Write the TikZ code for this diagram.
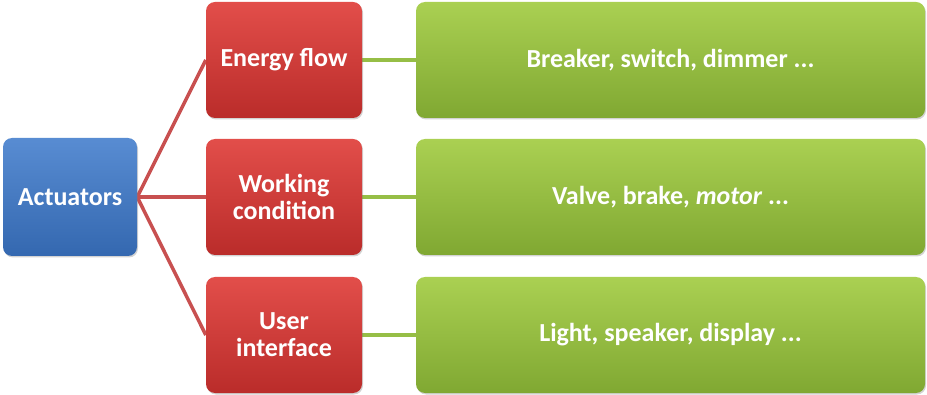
\documentclass[tikz,border=0pt]{standalone}
\usepackage{fontspec}
\setmainfont{Carlito}
\usetikzlibrary{shadows,backgrounds}
\definecolor{bluetop}{RGB}{88,140,210}
\definecolor{bluebot}{RGB}{52,104,176}
\definecolor{redtop}{RGB}{226,78,74}
\definecolor{redbot}{RGB}{186,44,42}
\definecolor{greentop}{RGB}{170,208,82}
\definecolor{greenbot}{RGB}{128,168,50}
\definecolor{redline}{RGB}{200,80,80}
\definecolor{greenline}{RGB}{150,190,70}
\tikzset{
  x=1pt,y=1pt,
  box/.style={rounded corners=9pt, draw=none, text=white, font=\bfseries\fontsize{26}{27}\selectfont,
    align=center, inner sep=0pt, drop shadow={shadow xshift=1pt, shadow yshift=-1.5pt, opacity=0.35}},
  bluebox/.style={box, top color=bluetop, bottom color=bluebot, minimum width=134pt, minimum height=118pt},
  redbox/.style={box, top color=redtop, bottom color=redbot, minimum width=156pt, minimum height=116pt},
  greenbox/.style={box, top color=greentop, bottom color=greenbot, minimum width=509pt, minimum height=116pt},
  redlink/.style={draw=redline, line width=3.5pt},
  greenlink/.style={draw=greenline, line width=3.5pt},
}
\begin{document}
\begin{tikzpicture}
\useasboundingbox (0,0) rectangle (927,394);
\node[bluebox] (act) at (70,197) {Actuators};
\node[redbox] (r1) at (284,334) {Energy flow};
\node[redbox] (r2) at (284,197) {Working\\condition};
\node[redbox] (r3) at (284,59) {User\\interface};
\node[greenbox] (g1) at (670.5,334) {Breaker, switch, dimmer ...};
\node[greenbox] (g2) at (670.5,197) {Valve, brake, \textit{motor} ...};
\node[greenbox] (g3) at (670.5,59) {Light, speaker, display ...};
\begin{scope}[on background layer]
\draw[redlink] (act.east) -- (r1.west);
\draw[redlink] (act.east) -- (r2.west);
\draw[redlink] (act.east) -- (r3.west);
\draw[greenlink] (r1.east) -- (g1.west);
\draw[greenlink] (r2.east) -- (g2.west);
\draw[greenlink] (r3.east) -- (g3.west);
\end{scope}
\end{tikzpicture}
\end{document}
